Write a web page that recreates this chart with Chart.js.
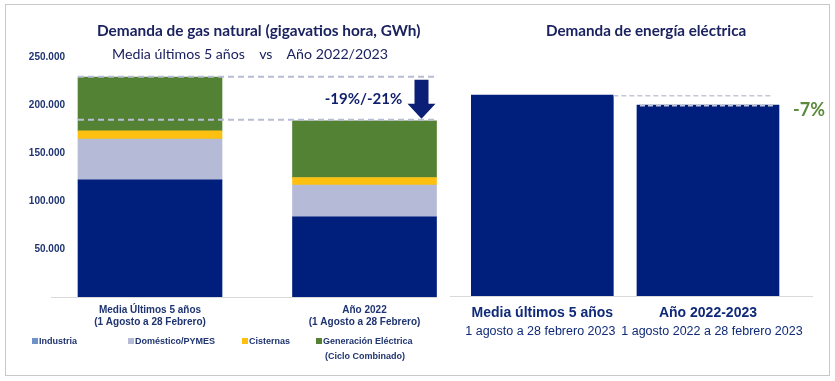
<!DOCTYPE html>
<html>
<head>
<meta charset="utf-8">
<script src="https://cdn.jsdelivr.net/npm/chart.js@4/dist/chart.umd.min.js"></script>
<style>
  html, body { margin: 0; padding: 0; background: #ffffff; }
  body { width: 835px; height: 381px; position: relative; overflow: hidden; }
  #frame { position: absolute; left: 5px; top: 4px; width: 825px; height: 372px; border: 1px solid #c8c8c8; box-sizing: border-box; }
  .t { position: absolute; white-space: nowrap; color: #1b2260; font-family: Lato, "Open Sans", sans-serif; }
  .title { font-weight: bold; font-size: 15.4px; }
  .sub { font-size: 14.2px; }
  #cGas { position: absolute; left: 0; top: 0; }
  #cEl { position: absolute; left: 445px; top: 0; }
  .leg { position: absolute; font-family: "Liberation Sans", Arial, sans-serif; font-weight: bold; font-size: 9px; color: #1f3470; white-space: nowrap; line-height: 13px; }
  .sw { display: inline-block; width: 6px; height: 6px; margin-right: 1px; vertical-align: 0px; }
</style>
</head>
<body>
<div id="frame"></div>
<canvas id="cGas" width="450" height="381"></canvas>
<canvas id="cEl" width="390" height="381"></canvas>
<div class="t title" id="tGas" style="left:97px; top:21px;">Demanda de gas natural (gigavatios hora, GWh)</div>
<div class="t sub" id="sGas" style="left:112px; top:45px;">Media últimos 5 años&nbsp;&nbsp;&nbsp; vs &nbsp;&nbsp;&nbsp;Año 2022/2023</div>
<div class="t title" id="tEl" style="left:546px; top:21px; font-size:15.2px;">Demanda de energía eléctrica</div>
<div id="legend"></div>
<script>
// ---------- DATA ----------
const gasCategories = [
  ['Media Últimos 5 años', '(1 Agosto a 28 Febrero)'],
  ['Año 2022', '(1 Agosto a 28 Febrero)']
];
const seriesNames = ['Industria', 'Doméstico/PYMES', 'Cisternas', 'Generación Eléctrica'];
const industria  = [122000, 83500];
const domestico  = [42500, 33000];
const cisternas  = [8500, 8000];
const generacion = [56000, 59000];
const gasYTicks = [50000, 100000, 150000, 200000, 250000];
const gasChangeLabel = '-19%/-21%';

const elecCategories = ['Media últimos 5 años', 'Año 2022-2023'];
const elecPeriods = ['1 agosto a 28 febrero 2023', '1 agosto 2022 a 28 febrero 2023'];
const elecValues = [100, 95];
const elecChangeLabel = '-7%';

// ---------- STYLE ----------
const NAVY = '#001f7c';
const LAV = '#b5bbd6';
const YEL = '#fdc010';
const GRN = '#548235';
const TXT = '#1f3470';
const barColors = [NAVY, LAV, YEL, GRN];
const legendColors = ['#6f93c8', LAV, YEL, GRN];
const AXISFONT = '"Liberation Sans", Arial, sans-serif';

// legend (HTML)
const legendPos = [[32, 335], [128, 335], [242, 335], [316, 335]];
const legendEl = document.getElementById('legend');
seriesNames.forEach((n, i) => {
  const d = document.createElement('div');
  d.className = 'leg';
  d.style.left = legendPos[i][0] + 'px';
  d.style.top = legendPos[i][1] + 'px';
  d.innerHTML = '<span class="sw" style="background:' + legendColors[i] + '"></span>' + n +
    (i === 3 ? '<br><span style="padding-left:9px">(Ciclo Combinado)</span>' : '');
  if (i === 3) { d.style.lineHeight = '15px'; d.style.top = (legendPos[i][1] - 1) + 'px'; }
  legendEl.appendChild(d);
});

function fmt(v) { return String(v).replace(/\B(?=(\d{3})+(?!\d))/g, '.'); }

const gasSeries = [industria, domestico, cisternas, generacion];
const totals = gasCategories.map((_, i) => gasSeries.reduce((s, a) => s + a[i], 0));

const gasPlugin = {
  id: 'gasAnnot',
  beforeDatasetsDraw(chart) {
    const ctx = chart.ctx, y = chart.scales.y;
    const y0 = Math.round(y.getPixelForValue(0)) + 0.5;
    ctx.save();
    ctx.strokeStyle = '#d9d9d9';
    ctx.lineWidth = 1;
    ctx.beginPath(); ctx.moveTo(51, y0); ctx.lineTo(437, y0); ctx.stroke();
    ctx.restore();
  },
  afterDatasetsDraw(chart) {
    const ctx = chart.ctx, y = chart.scales.y;
    const meta = chart.getDatasetMeta(3);
    const b0 = meta.data[0], b1 = meta.data[1];
    const left = b0.x - b0.width / 2;
    const right = b1.x + b1.width / 2 + 1;
    const yTop = y.getPixelForValue(totals[0]) - 0.5;
    const yBot = y.getPixelForValue(totals[1]) - 1;
    ctx.save();
    ctx.strokeStyle = '#b8bcd4';
    ctx.lineWidth = 2;
    ctx.setLineDash([6, 4]);
    [yTop, yBot].forEach(yy => { ctx.beginPath(); ctx.moveTo(left, yy); ctx.lineTo(right, yy); ctx.stroke(); });
    ctx.setLineDash([]);
    // arrow
    const ax = b1.x + b1.width / 2 - 15;
    const top = yTop + 3, tip = yBot - 1;
    const headH = 15;
    ctx.fillStyle = '#0a1f75';
    ctx.beginPath();
    ctx.moveTo(ax - 7, top); ctx.lineTo(ax + 7, top); ctx.lineTo(ax + 7, tip - headH);
    ctx.lineTo(ax + 14, tip - headH); ctx.lineTo(ax, tip); ctx.lineTo(ax - 14, tip - headH);
    ctx.lineTo(ax - 7, tip - headH); ctx.closePath(); ctx.fill();
    // label
    ctx.fillStyle = '#0f1f6b';
    ctx.font = 'bold 15px Lato, sans-serif';
    ctx.textAlign = 'center';
    ctx.textBaseline = 'middle';
    ctx.fillText(gasChangeLabel, b1.x - 1, (yTop + yBot) / 2 + 1);
    ctx.restore();
  }
};

new Chart(document.getElementById('cGas'), {
  type: 'bar',
  data: {
    datasets: gasSeries.map((arr, i) => ({
      label: seriesNames[i],
      data: arr.map((v, j) => ({ x: j, y: v })),
      backgroundColor: barColors[i],
      borderWidth: 0,
      barThickness: 144
    }))
  },
  options: {
    responsive: false,
    animation: false,
    layout: { padding: { left: 0, right: 10, top: 57, bottom: 44 } },
    plugins: { legend: { display: false }, tooltip: { enabled: false } },
    scales: {
      x: {
        type: 'linear',
        stacked: true,
        offset: false,
        bounds: 'ticks',
        min: -(150 - 70) / 214.5,
        max: (440 - 150) / 214.5,
        afterBuildTicks(axis) { axis.ticks = gasCategories.map((_, i) => ({ value: i })); },
        afterFit(s) { s.height = 40; },
        grid: { display: false, drawTicks: false, offset: false },
        border: { display: false },
        ticks: {
          autoSkip: false, maxRotation: 0, padding: 7,
          color: TXT, font: { family: AXISFONT, weight: 'bold', size: 10 },
          callback: (v) => gasCategories[v]
        }
      },
      y: {
        stacked: true,
        min: 0, max: 250000,
        afterBuildTicks(axis) { axis.ticks = gasYTicks.map(v => ({ value: v })); },
        afterFit(s) { s.width = 70; },
        grid: { display: false, drawTicks: false },
        border: { display: false },
        ticks: {
          padding: 5, color: TXT, font: { family: AXISFONT, weight: 'bold', size: 10 },
          callback: (v) => fmt(v)
        }
      }
    }
  },
  plugins: [gasPlugin]
});

const elPlugin = {
  id: 'elAnnot',
  beforeDatasetsDraw(chart) {
    const ctx = chart.ctx, y = chart.scales.y;
    const y0 = Math.round(y.getPixelForValue(0)) + 0.5;
    ctx.save();
    ctx.strokeStyle = '#d9d9d9'; ctx.lineWidth = 1;
    ctx.beginPath(); ctx.moveTo(5, y0); ctx.lineTo(368, y0); ctx.stroke();
    ctx.restore();
  },
  afterDatasetsDraw(chart) {
    const ctx = chart.ctx, y = chart.scales.y, x = chart.scales.x;
    const meta = chart.getDatasetMeta(0);
    const b0 = meta.data[0], b1 = meta.data[1];
    const y1 = y.getPixelForValue(elecValues[0]);
    const y2 = y.getPixelForValue(elecValues[1]);
    const endX = b1.x + b1.width / 2 - 6;
    ctx.save();
    ctx.strokeStyle = '#c4c6d6'; ctx.lineWidth = 1.5; ctx.setLineDash([5, 3]);
    ctx.beginPath(); ctx.moveTo(b0.x + b0.width / 2, y1 + 0.5); ctx.lineTo(endX, y1 + 0.5); ctx.stroke();
    ctx.beginPath(); ctx.moveTo(b1.x - b1.width / 2 + 3, y2 + 0.5); ctx.lineTo(endX, y2 + 0.5); ctx.stroke();
    ctx.setLineDash([]);
    ctx.fillStyle = '#5b8a3a';
    ctx.font = 'bold 18px Lato, sans-serif';
    ctx.textAlign = 'left'; ctx.textBaseline = 'middle';
    ctx.fillText(elecChangeLabel, b1.x + b1.width / 2 + 14, y2 + 5);
    // category labels
    ctx.fillStyle = '#0f2a78';
    ctx.textAlign = 'center';
    const base = y.getPixelForValue(0);
    elecCategories.forEach((c, i) => {
      const cx = x.getPixelForValue(i);
      ctx.font = 'bold 14px ' + AXISFONT;
      ctx.fillText(c, cx, base + 17);
      ctx.font = '12.5px ' + AXISFONT;
      ctx.fillText(elecPeriods[i], cx + (i === 1 ? 4 : -2), base + 36);
    });
    ctx.restore();
  }
};

new Chart(document.getElementById('cEl'), {
  type: 'bar',
  data: {
    labels: elecCategories,
    datasets: [{ data: elecValues, backgroundColor: NAVY, borderWidth: 0, barThickness: 142 }]
  },
  options: {
    responsive: false,
    animation: false,
    layout: { padding: { left: 14.5, right: 44.2, top: 57, bottom: 85 } },
    plugins: { legend: { display: false }, tooltip: { enabled: false } },
    scales: {
      x: { display: false },
      y: { display: false, min: 0, max: 119 }
    }
  },
  plugins: [elPlugin]
});
</script>
</body>
</html>
